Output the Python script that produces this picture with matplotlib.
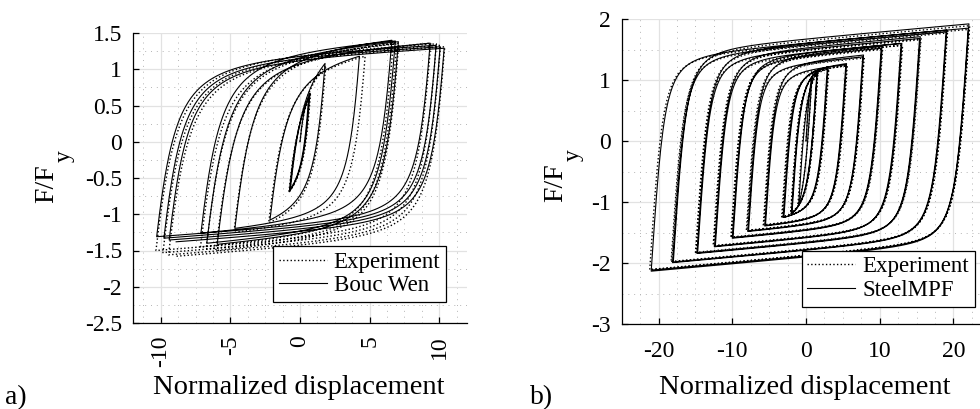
import numpy as np
import matplotlib
matplotlib.use("Agg")
import matplotlib.pyplot as plt
from matplotlib.ticker import MultipleLocator

plt.rcParams['font.family'] = ['Liberation Serif', 'DejaVu Serif']
plt.rcParams['axes.unicode_minus'] = False

# peak points (displacement, F/Fy) of each half cycle
# a) Bouc Wen model
bw_u = [0.72, -0.77, 0.62, -0.70, 1.80, -2.16, 4.27, -4.68, 6.60, -7.12, 6.85, -6.70,
        7.07, -5.95, 9.35, -10.30, 9.78, -9.78, 10.07, -9.40, 10.36, -8.90]
bw_f = [0.67, -0.69, 0.60, -0.66, 1.08, -1.08, 1.18, -1.195, 1.40, -1.26, 1.39, -1.40,
        1.38, -1.415, 1.36, -1.31, 1.33, -1.33, 1.31, -1.355, 1.29, -1.38]
# a) experiment
exa_u = [0.75, -0.80, 0.65, -0.72, 1.85, -2.25, 4.68, -4.75, 6.70, -7.15, 6.95, -6.75,
         7.10, -6.05, 9.40, -10.35, 9.80, -9.85, 10.10, -9.45, 10.40, -8.95]
exa_f = [0.65, -0.70, 0.58, -0.66, 1.05, -1.12, 1.18, -1.25, 1.36, -1.45, 1.35, -1.48,
         1.36, -1.50, 1.36, -1.50, 1.35, -1.53, 1.33, -1.56, 1.31, -1.58]

# b) SteelMPF model
mpf_u = [0.8, -1.0, 1.5, -1.9, 1.55, -2.0, 3.0, -3.1, 2.9, -3.0, 5.5, -5.5, 5.4, -5.6,
         7.8, -7.8, 7.7, -7.9, 10.3, -10.0, 10.2, -9.9, 13.0, -12.3, 12.9, -12.4,
         15.5, -14.7, 15.4, -14.8, 19.1, -18.1, 19.0, -18.0, 22.1, -21.0, 22.0, -20.8]
mpf_f = [1.05, -1.05, 1.15, -1.18, 1.16, -1.20, 1.22, -1.25, 1.21, -1.25, 1.27, -1.38,
         1.25, -1.39, 1.41, -1.47, 1.38, -1.48, 1.55, -1.59, 1.52, -1.58, 1.60, -1.72,
         1.60, -1.73, 1.71, -1.83, 1.68, -1.84, 1.82, -1.99, 1.79, -1.98, 1.92, -2.13,
         1.85, -2.11]
# b) experiment
exb_u = [0.8, -1.1, 1.6, -2.0, 1.6, -2.1, 3.1, -3.3, 3.0, -3.2, 5.6, -5.7, 5.5, -5.8,
         7.9, -8.0, 7.8, -8.1, 10.4, -10.2, 10.3, -10.1, 13.1, -12.5, 13.0, -12.6,
         15.6, -14.9, 15.5, -15.0, 19.2, -18.3, 19.1, -18.2, 22.2, -21.2, 22.1, -21.0]
exb_f = [1.02, -1.05, 1.12, -1.17, 1.13, -1.19, 1.19, -1.24, 1.18, -1.24, 1.24, -1.37,
         1.23, -1.38, 1.38, -1.46, 1.36, -1.47, 1.52, -1.58, 1.50, -1.57, 1.57, -1.71,
         1.57, -1.72, 1.68, -1.82, 1.66, -1.83, 1.79, -1.98, 1.77, -1.97, 1.89, -2.11,
         1.83, -2.10]

a_yticks = [-2.5, -2, -1.5, -1, -0.5, 0, 0.5, 1, 1.5]
a_ylabels = ['-2.5', '-2', '-1.5', '-1', '-0.5', '0', '0.5', '1', '1.5']
a_xticks = [-10, -5, 0, 5, 10]
b_yticks = [-3, -2, -1, 0, 1, 2]
b_xticks = [-20, -10, 0, 10, 20]


def mp_branch(u_r, f_r, u_t, f_t, e0, b, r):
    # Menegotto-Pinto type branch from reversal point to next peak
    u = np.linspace(u_r, u_t, 300)
    u0 = (f_t - f_r + e0 * u_r - b * e0 * u_t) / (e0 * (1 - b))
    f0 = f_r + e0 * (u0 - u_r)
    us = (u - u_r) / (u0 - u_r)
    fs = b * us + (1 - b) * us / (1 + np.abs(us) ** r) ** (1 / r)
    f = f_r + fs * (f0 - f_r)
    f = f + (f_t - f[-1]) * (u - u_r) / (u_t - u_r)
    return u, f


def loop_path(u_peaks, f_peaks, e_up, e_down, b, r):
    xs, ys = [0.0], [0.0]
    u_prev, f_prev = 0.0, 0.0
    for ut, ft in zip(u_peaks, f_peaks):
        e0 = e_up if ut > u_prev else e_down
        u, f = mp_branch(u_prev, f_prev, ut, ft, e0, b, r)
        xs.extend(u[1:])
        ys.extend(f[1:])
        u_prev, f_prev = ut, ft
    return np.array(xs), np.array(ys)


def style_axes(ax):
    ax.spines['top'].set_visible(False)
    ax.spines['right'].set_visible(False)
    for s in ['left', 'bottom']:
        ax.spines[s].set_linewidth(0.9)
    ax.set_axisbelow(True)
    ax.grid(which='major', color='#e2e2e2', lw=0.9, ls='-')
    ax.grid(which='minor', color='#b5b5b5', lw=0.7, ls=(0, (1, 5)))
    ax.tick_params(which='major', direction='in', length=4, width=0.9, labelsize=17)
    ax.tick_params(which='minor', length=0)


def ylabel_fy(x, y):
    # F/F with a lowered y, rotated like the original label
    fig.text(x / 980, 1 - y / 409, 'F/F', fontsize=20, rotation=90, ha='center', va='bottom')
    fig.text((x + 17) / 980, 1 - (y - 41) / 409, 'y', fontsize=17, rotation=90, ha='center', va='bottom')


fig = plt.figure(figsize=(9.8, 4.09), dpi=100)

# panel a
ax1 = fig.add_axes([133 / 980, 86 / 409, 334 / 980, 290 / 409])
xe, ye = loop_path(exa_u, exa_f, 1.6, 2.4, 0.005, 1.5)
xm, ym = loop_path(bw_u, bw_f, 1.6, 2.4, 0.005, 1.5)
ax1.plot(xe, ye, color='black', lw=1.0, ls=':', label='Experiment')
ax1.plot(xm, ym, color='black', lw=0.8, ls='-', label='Bouc Wen')
ax1.set_xlim(-12, 12)
ax1.set_ylim(-2.5, 1.5)
ax1.set_xticks(a_xticks)
ax1.set_xticklabels([str(t) for t in a_xticks], rotation=90)
ax1.set_yticks(a_yticks)
ax1.set_yticklabels(a_ylabels)
ax1.xaxis.set_minor_locator(MultipleLocator(1.25))
ax1.yaxis.set_minor_locator(MultipleLocator(0.25))
style_axes(ax1)
ax1.tick_params(axis='x', pad=9)
ax1.tick_params(axis='y', pad=8)
leg1 = ax1.legend(loc='lower right', bbox_to_anchor=(0.937, 0.072), fontsize=16.5,
                  fancybox=False, framealpha=1, edgecolor='black', borderaxespad=0,
                  handlelength=2.1, handletextpad=0.3, labelspacing=0.1, borderpad=0.25)
leg1.get_frame().set_linewidth(0.9)

# panel b
ax2 = fig.add_axes([621.7 / 980, 84.7 / 409, 358.3 / 980, 305.3 / 409])
xe, ye = loop_path(exb_u, exb_f, 1.8, 1.8, 0.006, 2.2)
xm, ym = loop_path(mpf_u, mpf_f, 1.8, 1.8, 0.006, 2.2)
ax2.plot(xe, ye, color='black', lw=1.0, ls=':', label='Experiment')
ax2.plot(xm, ym, color='black', lw=0.8, ls='-', label='SteelMPF')
ax2.set_xlim(-25, 23.6)
ax2.set_ylim(-3, 2)
ax2.set_xticks(b_xticks)
ax2.set_yticks(b_yticks)
ax2.xaxis.set_minor_locator(MultipleLocator(2.5))
ax2.yaxis.set_minor_locator(MultipleLocator(0.5))
style_axes(ax2)
ax2.tick_params(axis='x', pad=12)
ax2.tick_params(axis='y', pad=8)
leg2 = ax2.legend(loc='upper left', bbox_to_anchor=(0.502, 0.241), fontsize=16.5,
                  fancybox=False, framealpha=1, edgecolor='black', borderaxespad=0,
                  handlelength=2.1, handletextpad=0.3, labelspacing=0.1, borderpad=0.25)
leg2.get_frame().set_linewidth(0.9)

# axis labels
fig.text(299 / 980, 1 - 388 / 409, 'Normalized displacement', fontsize=20.5, ha='center', va='center')
fig.text(805 / 980, 1 - 388 / 409, 'Normalized displacement', fontsize=20.5, ha='center', va='center')
ylabel_fy(47, 203)
ylabel_fy(556, 202)
fig.text(5 / 980, 5 / 409, 'a)', fontsize=20, ha='left', va='baseline')
fig.text(530 / 980, 5 / 409, 'b)', fontsize=20, ha='left', va='baseline')

fig.savefig('out.png', dpi=100)
